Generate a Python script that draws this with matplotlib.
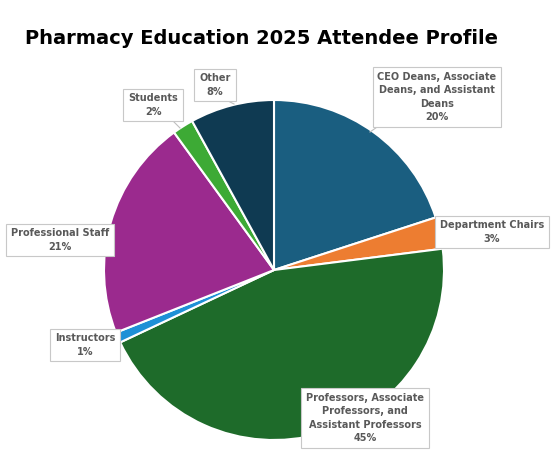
import matplotlib.pyplot as plt

labels = ["CEO Deans, Associate\nDeans, and Assistant\nDeans", "Department Chairs",
          "Professors, Associate\nProfessors, and\nAssistant Professors", "Instructors",
          "Professional Staff", "Students", "Other"]
values = [20, 3, 45, 1, 21, 2, 8]
colors = ["#1a5e80", "#ed7d31", "#1e6b2a", "#1e90d6", "#9b2a8e", "#3daa35", "#0f3a52"]
# label box centres and leader line ends, in pixels from top-left
label_pos = [(437, 97), (492, 232), (365, 418), (85, 345), (60, 240), (153, 105), (215, 85)]
leader = [((380, 125), (370, 132)), None, None, ((112, 340), (120, 334)), None,
          ((170, 118), (180, 128)), ((228, 101), (234, 104))]

H = 475
fig = plt.figure(figsize=(5.6, 4.75), dpi=100)
ax = fig.add_axes([0, 0, 1, 1])
ax.set_xlim(0, 560)
ax.set_ylim(0, H)
ax.set_aspect("equal")
ax.axis("off")

ax.pie(values, colors=colors, startangle=90, counterclock=False,
       center=(274, H - 270), radius=170, frame=True,
       wedgeprops=dict(edgecolor="white", linewidth=1.5))
ax.set_xlim(0, 560)
ax.set_ylim(0, H)
ax.axis("off")

for lab, v, (x, y), ld in zip(labels, values, label_pos, leader):
    if ld:
        (x1, y1), (x2, y2) = ld
        ax.plot([x1, x2], [H - y1, H - y2], color="#bfbfbf", lw=0.8)
    ax.text(x, H - y, f"{lab}\n{v}%", ha="center", va="center", fontsize=7,
            fontweight="bold", color="#595959", linespacing=1.4,
            bbox=dict(boxstyle="square,pad=0.5", fc="white", ec="#c8c8c8", lw=0.8))

fig.text(0.045, 1 - 38 / H, "Pharmacy Education 2025 Attendee Profile",
         fontsize=14, fontweight="bold", va="center", ha="left", color="black")

fig.savefig("out.png", dpi=100)
